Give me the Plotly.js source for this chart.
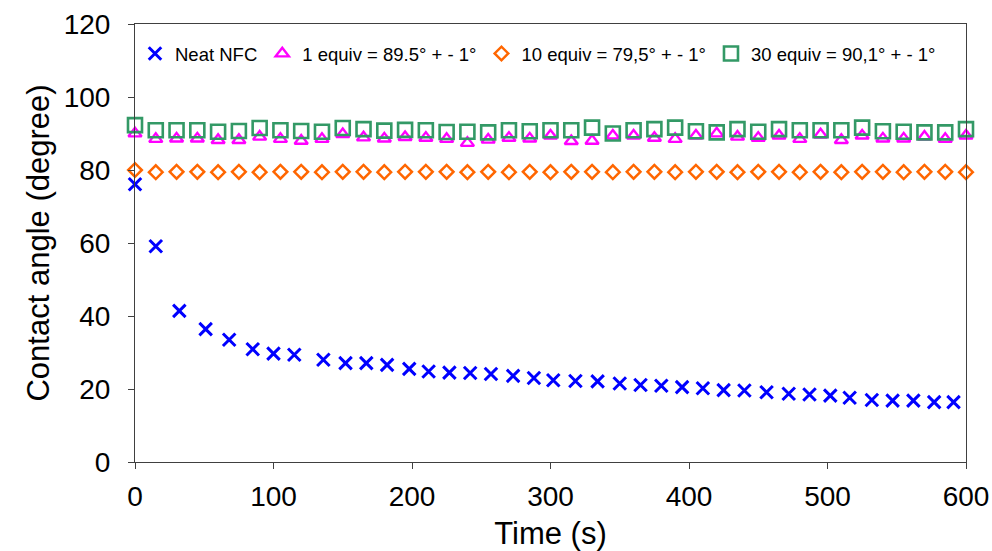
<!DOCTYPE html>
<html>
<head>
<meta charset="utf-8">
<script src="https://cdn.plot.ly/plotly-3.0.1.min.js"></script>
<style>html,body{margin:0;padding:0;background:#fff;}#chart{width:992px;height:551px;}</style>
</head>
<body>
<div id="chart"></div>
<script>
// Neat NFC (irregular sampling times)
const neatTime = [0,15,32,51,68,85,100,115,136,152,167,182,198,212,227,242,257,273,288,302,318,334,350,365,380,395,410,425,440,456,472,487,502,516,532,547,562,577,591];
const neatAngle = [76.1,59.1,41.4,36.4,33.5,30.9,29.7,29.4,28.0,27.1,27.1,26.6,25.5,24.8,24.5,24.4,24.1,23.6,23.0,22.4,22.2,22.1,21.5,21.1,20.9,20.5,20.2,19.7,19.6,19.1,18.7,18.5,18.2,17.6,17.0,16.8,16.8,16.4,16.4];

// Modified samples (every 15 s)
const modTime = [0,15,30,45,60,75,90,105,120,135,150,165,180,195,210,225,240,255,270,285,300,315,330,345,360,375,390,405,420,435,450,465,480,495,510,525,540,555,570,585,600];
const equiv1 = [90.0,88.5,88.6,88.6,88.2,88.2,89.1,88.5,88.0,88.5,89.8,88.9,88.6,89.0,88.8,88.5,87.4,88.3,88.8,88.6,89.4,87.9,88.0,89.4,89.4,88.8,88.5,89.4,90.0,89.1,88.8,89.4,88.5,89.7,88.2,89.4,88.6,88.6,89.1,88.5,89.4];
const equiv10 = [80.0,79.4,79.5,79.5,79.4,79.5,79.4,79.5,79.5,79.4,79.5,79.5,79.4,79.5,79.5,79.5,79.4,79.5,79.4,79.5,79.4,79.5,79.5,79.4,79.5,79.5,79.4,79.5,79.5,79.4,79.5,79.5,79.4,79.5,79.4,79.5,79.5,79.4,79.5,79.5,79.4];
const equiv30 = [92.3,90.9,90.9,90.9,90.5,90.7,91.5,90.9,90.7,90.5,91.5,91.2,90.8,91.0,90.9,90.4,90.5,90.3,90.9,90.6,90.9,90.9,91.6,90.0,90.9,91.2,91.6,90.6,90.3,91.2,90.5,91.2,90.9,90.9,90.9,91.6,90.6,90.5,90.3,90.3,91.2];

const seriesNames = ["Neat NFC","1 equiv = 89.5° + - 1°","10 equiv = 79,5° + - 1°","30 equiv = 90,1° + - 1°"];
const xTicks = [0,100,200,300,400,500,600];
const yTicks = [0,20,40,60,80,100,120];

const FONT = "Arial, 'Liberation Sans', sans-serif";

const traces = [
  {x: neatTime, y: neatAngle, name: seriesNames[0], type:'scatter', mode:'markers', cliponaxis:false,
   marker:{symbol:'x-thin-open', size:12.5, color:'#0000ff', line:{color:'#0000ff', width:3}}},
  {x: modTime, y: equiv1, name: seriesNames[1], type:'scatter', mode:'markers', cliponaxis:false,
   marker:{symbol:'triangle-up-open', size:11.5, color:'#ff00ff', line:{color:'#ff00ff', width:2.4}}},
  {x: modTime, y: equiv10, name: seriesNames[2], type:'scatter', mode:'markers', cliponaxis:false,
   marker:{symbol:'diamond-open', size:10.5, color:'#ff6600', line:{color:'#ff6600', width:2.5}}},
  {x: modTime, y: equiv30, name: seriesNames[3], type:'scatter', mode:'markers', cliponaxis:false,
   marker:{symbol:'square-open', size:14, color:'#339966', line:{color:'#339966', width:2.6}}}
];

const layout = {
  width: 992, height: 551,
  margin: {l:135, r:26, t:24, b:89, pad:0},
  paper_bgcolor:'#ffffff', plot_bgcolor:'#ffffff',
  font: {family: FONT, color:'#000000'},
  showlegend: true,
  legend: {orientation:'h', x:0, xanchor:'left', y:0.975, yanchor:'top',
           font:{family:FONT, size:18.5, color:'#000'}, bgcolor:'rgba(0,0,0,0)', itemwidth:30,
           tracegroupgap:0},
  xaxis: {range:[0,600], tickvals:xTicks, ticktext:xTicks.map(String), showgrid:false, zeroline:false,
          showline:true, linecolor:'#404040', linewidth:1, mirror:true,
          ticks:'outside', ticklen:6, tickcolor:'#404040', ticklabelstandoff:3,
          tickfont:{size:28, family:FONT},
          title:{text:'Time (s)', font:{size:31, family:FONT}, standoff:12}},
  yaxis: {range:[0,120], tickvals:yTicks, ticktext:yTicks.map(String), showgrid:false, zeroline:false,
          showline:true, linecolor:'#404040', linewidth:1, mirror:true,
          ticks:'outside', ticklen:6, tickcolor:'#404040', ticklabelstandoff:12,
          tickfont:{size:28, family:FONT},
          title:{text:'Contact angle (degree)', font:{size:31, family:FONT}, standoff:4}}
};

Plotly.newPlot('chart', traces, layout, {displayModeBar:false, staticPlot:true});
</script>
</body>
</html>
